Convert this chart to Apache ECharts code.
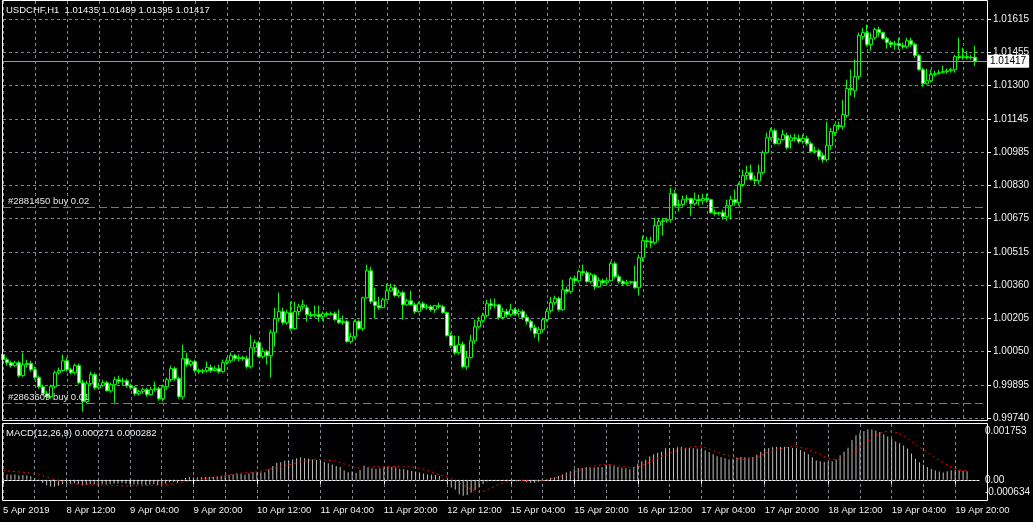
<!DOCTYPE html>
<html>
<head>
<meta charset="utf-8">
<script src="https://cdn.jsdelivr.net/npm/echarts@6/dist/echarts.min.js"></script>
<style>
html,body{margin:0;padding:0;background:#000;}
#chart{width:1033px;height:522px;}
</style>
</head>
<body>
<div id="chart"></div>
<script>
// ---------- data (USDCHF, H1) ----------
const symbolName = 'USDCHF,H1';
const sessionDays = ['5 Apr','8 Apr','9 Apr','10 Apr','11 Apr','12 Apr','15 Apr','16 Apr','17 Apr','18 Apr','19 Apr'];
const xTickLabels = ['5 Apr 2019','8 Apr 12:00','9 Apr 04:00','9 Apr 20:00','10 Apr 12:00','11 Apr 04:00','11 Apr 20:00','12 Apr 12:00','15 Apr 04:00','15 Apr 20:00','16 Apr 12:00','17 Apr 04:00','17 Apr 20:00','18 Apr 12:00','19 Apr 04:00','19 Apr 20:00'];
const priceTickLabels = ['0.99740','0.99895','1.00050','1.00205','1.00360','1.00515','1.00675','1.00830','1.00985','1.01145','1.01300','1.01455','1.01615'];
const priceMin = 0.99740, priceMax = 1.01615;
const macdMin = -0.000634, macdMax = 0.001753;
const macdAxisLabels = ['-0.000634','0.00','0.001753'];
const orderTickets = ['#2881450','#2863609'];
const orderSides = ['buy','buy'];
const orderLots = ['0.02','0.01'];
const orderPrices = [1.00729, 0.99808];

const openP = [
1.00038,1.00014,1.0,0.99986,1.0,0.99939,0.99991,0.99996,0.99967,0.9993,
0.99887,0.99854,0.9984,0.99887,0.99953,0.99963,1.00009,0.99967,0.99953,0.99986,
0.99906,0.99817,0.99901,0.99944,0.99882,0.99892,0.99906,0.99868,0.99897,0.9992,
0.99911,0.99915,0.99892,0.99882,0.99854,0.99864,0.99873,0.9985,0.99873,0.99878,
0.99831,0.99887,0.9992,0.99972,0.99925,0.9984,1.00019,0.99991,1.00005,0.99963,
0.99958,0.99963,0.99977,0.99963,0.99972,0.99958,1.0,1.00009,1.00033,1.00019,
1.00024,1.00019,0.99981,1.0007,1.00094,1.00028,1.00052,1.00033,1.00141,1.00207,
1.0024,1.00188,1.00235,1.0016,1.0024,1.00263,1.00258,1.00226,1.00221,1.00226,
1.00216,1.0023,1.00226,1.0023,1.00202,1.00188,1.00193,1.00099,1.00122,1.00193,
1.0016,1.00305,1.00432,1.00287,1.00268,1.00258,1.00296,1.00338,1.00352,1.00315,
1.00329,1.00272,1.00291,1.00272,1.0024,1.00277,1.00258,1.00263,1.00249,1.00268,
1.00263,1.00235,1.00127,1.0008,1.00047,1.00085,0.99981,1.00024,1.00103,1.00169,
1.00197,1.00221,1.00277,1.00268,1.00272,1.00212,1.0024,1.00226,1.00249,1.0023,
1.0024,1.00212,1.00193,1.00164,1.00136,1.00155,1.00202,1.00244,1.00282,1.00301,
1.00249,1.00343,1.00334,1.00395,1.00385,1.00428,1.00423,1.00381,1.00409,1.00357,
1.00385,1.00376,1.00385,1.00465,1.00404,1.00381,1.00371,1.00376,1.00381,1.00352,
1.00493,1.00573,1.00569,1.00564,1.00644,1.00663,1.00667,1.00672,1.00794,1.00738,
1.00743,1.00766,1.00771,1.00747,1.00766,1.00761,1.00771,1.00766,1.00705,1.007,
1.00705,1.00686,1.00738,1.00766,1.00752,1.00837,1.00879,1.00893,1.0086,1.00855,
1.00893,1.00987,1.01057,1.0109,1.01029,1.01048,1.01067,1.01043,1.01057,1.01053,
1.01039,1.01053,1.01029,1.00992,1.00996,1.00973,1.00954,1.0102,1.01081,1.01114,
1.01109,1.01161,1.01288,1.01278,1.01344,1.01532,1.01551,1.01495,1.01527,1.01565,
1.01551,1.01523,1.01504,1.01495,1.01499,1.0149,1.01485,1.01513,1.01495,1.01443,
1.01377,1.01311,1.01325,1.01354,1.01358,1.01363,1.01368,1.01372,1.01377,1.01438,
1.01433,1.01438,1.01433,1.01435];

const highP = [
1.0007,1.00024,1.00009,1.00009,1.00009,1.00047,1.00014,1.00009,0.99981,0.99939,
0.99897,0.99868,0.99897,0.99963,0.99977,1.00038,1.00024,0.99977,0.99996,0.99996,
0.9992,0.99915,0.99958,0.99953,0.99906,0.9992,0.99915,0.99906,0.99934,0.99939,
0.9993,0.99925,0.99901,0.99892,0.99873,0.99882,0.99882,0.99887,0.99911,0.99887,
0.99897,0.9993,0.99986,0.99981,0.99934,1.00085,1.00047,1.00014,1.00014,0.99972,
0.99972,1.00005,0.99991,0.99986,0.99991,1.00014,1.00024,1.00047,1.00042,1.00038,
1.00033,1.00033,1.00131,1.00108,1.00103,1.0007,1.00061,1.00155,1.00258,1.00329,
1.00258,1.00249,1.00287,1.00287,1.00277,1.00296,1.00272,1.0024,1.00268,1.00268,
1.0024,1.0024,1.0024,1.0024,1.00249,1.00221,1.00202,1.00141,1.00202,1.00202,
1.0031,1.00461,1.00451,1.00352,1.0031,1.00305,1.00371,1.00371,1.00367,1.00343,
1.00338,1.00301,1.00338,1.00282,1.00287,1.00287,1.00277,1.00272,1.00272,1.00282,
1.00272,1.0024,1.00141,1.00127,1.00127,1.00099,1.00052,1.00131,1.00202,1.00216,
1.00235,1.00296,1.00301,1.00301,1.00277,1.00258,1.00254,1.00277,1.00258,1.00254,
1.00249,1.00226,1.00202,1.00179,1.00169,1.00212,1.00254,1.0031,1.00315,1.0031,
1.0039,1.00357,1.00404,1.00409,1.00437,1.00461,1.00432,1.00423,1.00418,1.004,
1.00395,1.004,1.00475,1.00475,1.00414,1.0039,1.0039,1.00385,1.00456,1.00508,
1.00597,1.00592,1.00592,1.00681,1.00681,1.00681,1.00681,1.00822,1.00813,1.00766,
1.00785,1.00789,1.00775,1.00799,1.00789,1.00794,1.00794,1.00771,1.00719,1.0071,
1.00719,1.00766,1.00785,1.00813,1.00846,1.00907,1.00926,1.00931,1.00879,1.00931,
1.00996,1.01081,1.01104,1.011,1.01057,1.01095,1.01081,1.01072,1.01076,1.01072,
1.01072,1.01067,1.01039,1.01015,1.01006,1.00987,1.01133,1.01104,1.01123,1.01133,
1.01236,1.0133,1.01377,1.01424,1.01551,1.01574,1.01589,1.01551,1.01574,1.01579,
1.01556,1.01532,1.01513,1.01513,1.01527,1.01504,1.01527,1.01527,1.01504,1.01452,
1.01386,1.01382,1.01377,1.01372,1.01377,1.01396,1.01382,1.01386,1.01447,1.01527,
1.0148,1.01466,1.01447,1.01489];

const lowP = [
1.0,0.99986,0.99977,0.99981,0.9993,0.99934,0.99977,0.99958,0.9992,0.99878,
0.99845,0.99831,0.99831,0.99878,0.99944,0.99958,0.99958,0.99944,0.99944,0.99897,
0.9977,0.99807,0.99892,0.99873,0.99873,0.99887,0.99864,0.99859,0.99812,0.99901,
0.99892,0.99882,0.99873,0.99845,0.99845,0.99854,0.9984,0.99845,0.99864,0.99821,
0.99817,0.99873,0.99911,0.99915,0.99831,0.99826,0.99981,0.99981,0.99953,0.99948,
0.99948,0.99953,0.99953,0.99958,0.99948,0.99953,0.99991,1.0,1.00009,1.00005,
1.00009,0.99972,0.99972,1.00047,1.00024,1.00019,0.99991,0.9993,1.00075,1.00193,
1.00179,1.00179,1.0015,1.00155,1.00221,1.00249,1.00193,1.00212,1.00212,1.00193,
1.00197,1.00216,1.00221,1.00197,1.00183,1.00179,1.00094,1.00089,1.00113,1.00155,
1.0015,1.00301,1.00277,1.00207,1.00249,1.00263,1.00291,1.00334,1.0031,1.00305,
1.00202,1.00268,1.00268,1.0023,1.00235,1.00249,1.00249,1.0024,1.00235,1.00254,
1.0023,1.00122,1.0007,1.00038,1.00038,0.99972,0.99967,1.00019,1.00089,1.0016,
1.00188,1.00212,1.00249,1.00254,1.00202,1.00202,1.00212,1.00216,1.00221,1.00216,
1.00202,1.00179,1.0015,1.00117,1.00099,1.00141,1.00193,1.00235,1.00272,1.0024,
1.00244,1.00324,1.00324,1.00371,1.00376,1.00409,1.00376,1.00371,1.00343,1.00352,
1.00367,1.00362,1.00381,1.00395,1.00371,1.00362,1.00362,1.00367,1.00348,1.00315,
1.00475,1.0054,1.0054,1.00555,1.00573,1.00597,1.00658,1.00658,1.00733,1.0071,
1.00733,1.00752,1.00691,1.00738,1.00738,1.00743,1.00752,1.007,1.00691,1.00691,
1.00672,1.00667,1.00672,1.00738,1.00738,1.00827,1.0086,1.00855,1.00837,1.00837,
1.00884,1.00982,1.01048,1.01025,1.01025,1.01043,1.01001,1.01006,1.01039,1.01029,
1.01029,1.0102,1.00987,1.00982,1.00954,1.0094,1.00945,1.01001,1.01067,1.01095,
1.01095,1.01151,1.01255,1.01245,1.0133,1.01518,1.01485,1.01466,1.01518,1.01532,
1.01518,1.01476,1.0148,1.01471,1.01471,1.01476,1.01476,1.01485,1.01433,1.01372,
1.01297,1.01306,1.01316,1.01344,1.01354,1.01358,1.01358,1.01363,1.01363,1.01424,
1.01424,1.01424,1.01424,1.01395];

const closeP = [
1.00014,1.0,0.99986,1.0,0.99939,0.99991,0.99996,0.99967,0.9993,0.99887,
0.99854,0.9984,0.99887,0.99953,0.99963,1.00009,0.99967,0.99953,0.99986,0.99906,
0.99817,0.99901,0.99944,0.99882,0.99892,0.99906,0.99868,0.99897,0.9992,0.99911,
0.99915,0.99892,0.99882,0.99854,0.99864,0.99873,0.9985,0.99873,0.99878,0.99831,
0.99887,0.9992,0.99972,0.99925,0.9984,1.00019,0.99991,1.00005,0.99963,0.99958,
0.99963,0.99977,0.99963,0.99972,0.99958,1.0,1.00009,1.00033,1.00019,1.00024,
1.00019,0.99981,1.0007,1.00094,1.00028,1.00052,1.00033,1.00141,1.00207,1.0024,
1.00188,1.00235,1.0016,1.0024,1.00263,1.00272,1.00226,1.00221,1.00226,1.00216,
1.0023,1.00226,1.0023,1.00202,1.00188,1.00193,1.00099,1.00122,1.00193,1.0016,
1.00305,1.00432,1.00287,1.00268,1.00258,1.00296,1.00338,1.00352,1.00315,1.00329,
1.00272,1.00291,1.00272,1.0024,1.00277,1.00258,1.00263,1.00249,1.00268,1.00263,
1.00235,1.00127,1.0008,1.00047,1.00085,0.99981,1.00024,1.00103,1.00169,1.00197,
1.00221,1.00277,1.00268,1.00272,1.00212,1.0024,1.00226,1.00249,1.0023,1.0024,
1.00212,1.00193,1.00164,1.00136,1.00155,1.00202,1.0024,1.00282,1.00301,1.00249,
1.00343,1.00334,1.00395,1.00385,1.00428,1.00423,1.00381,1.00414,1.00357,1.00385,
1.00376,1.00385,1.00465,1.00404,1.00381,1.00371,1.00376,1.00381,1.00352,1.00493,
1.00573,1.00569,1.00564,1.00644,1.00663,1.00667,1.00672,1.00794,1.00738,1.00743,
1.00766,1.00771,1.00747,1.00766,1.00761,1.00771,1.00766,1.00705,1.007,1.00705,
1.00686,1.00738,1.00766,1.00752,1.00837,1.00879,1.00893,1.0086,1.00855,1.00893,
1.00987,1.01057,1.0109,1.01029,1.01048,1.01072,1.0101,1.01057,1.01053,1.01039,
1.01053,1.01029,1.00992,1.00996,1.00968,1.00954,1.0102,1.01086,1.01114,1.01109,
1.01166,1.01288,1.01283,1.01344,1.01537,1.01551,1.01495,1.01523,1.01565,1.01551,
1.01523,1.01504,1.01495,1.01499,1.0149,1.01485,1.01513,1.01495,1.01443,1.01377,
1.01311,1.01325,1.01354,1.01358,1.01363,1.01368,1.01372,1.01377,1.01438,1.01433,
1.01438,1.01433,1.01435,1.01417];

const macdMain = [
0.00016,0.00017,0.00016,0.00017,0.00014,0.00015,0.00014,0.00011,0.00004,-0.00003,
-0.0001,-0.00017,-0.00021,-0.00022,-0.00018,-0.00013,-0.00012,-0.00012,-0.00011,-0.00013,
-0.00018,-0.00016,-0.00013,-0.00014,-0.00015,-0.00014,-0.00015,-0.00014,-0.00012,-0.00012,
-0.00011,-0.00012,-0.00013,-0.00015,-0.00015,-0.00015,-0.00016,-0.00015,-0.00014,-0.00016,
-0.00015,-0.00012,-0.00008,-0.00006,-0.00009,-0.00002,0.00006,0.00008,0.00007,0.00007,
0.00008,0.00009,0.00009,0.0001,0.0001,0.00012,0.00014,0.00016,0.00017,0.00018,
0.00018,0.00016,0.0002,0.00024,0.00023,0.00024,0.00024,0.00033,0.00043,0.00053,
0.00055,0.0006,0.00059,0.00064,0.00068,0.0007,0.00068,0.00066,0.00064,0.00062,
0.0006,0.00056,0.00052,0.00048,0.00043,0.0004,0.00029,0.00024,0.00026,0.00022,
0.00031,0.00045,0.00039,0.00036,0.00035,0.00036,0.00039,0.00041,0.0004,0.00039,
0.00035,0.00034,0.00031,0.00028,0.00026,0.00023,0.0002,0.00017,0.00016,0.00015,
0.00012,0.00002,-0.0001,-0.00024,-0.00031,-0.00045,-0.0005,-0.00048,-0.0004,-0.00032,
-0.00024,-0.00013,-0.00005,0.00001,-0.00001,-0.00002,0.00001,0.00002,0.00001,0.00001,
-0.00001,-0.00004,-0.00007,-0.00009,-0.00009,-0.00006,-0.00002,0.00002,0.00006,0.00007,
0.00013,0.00017,0.00023,0.00027,0.00033,0.00037,0.00037,0.0004,0.00038,0.00039,
0.0004,0.0004,0.00047,0.00046,0.00043,0.0004,0.00038,0.00036,0.00033,0.00041,
0.00051,0.00058,0.00063,0.00073,0.0008,0.00085,0.00088,0.00099,0.001,0.001,
0.00102,0.00103,0.001,0.001,0.00099,0.00098,0.00097,0.00093,0.00087,0.0008,
0.00074,0.00071,0.00068,0.00064,0.00066,0.0007,0.00072,0.00071,0.0007,0.00072,
0.00079,0.00088,0.00097,0.001,0.00102,0.00104,0.00103,0.00104,0.00103,0.001,
0.00098,0.00094,0.00088,0.0008,0.00071,0.00061,0.00058,0.00057,0.00056,0.00058,
0.00064,0.00077,0.00088,0.00101,0.00125,0.0014,0.00148,0.00153,0.00159,0.00158,
0.00155,0.0015,0.00143,0.00136,0.00128,0.0012,0.00115,0.00108,0.00098,0.00083,
0.00066,0.00055,0.00047,0.0004,0.00034,0.00029,0.00026,0.00023,0.00027,0.0003,
0.00031,0.0003,0.00028,0.000271];

const macdSignal = [
0.00029,0.00028,0.00027,0.00026,0.00025,0.00024,0.00022,0.00021,0.0002,0.00017,
0.00013,0.00009,0.00005,0.00001,-0.00003,-0.00007,-0.00011,-0.00012,-0.00013,-0.00014,
-0.00015,-0.00015,-0.00016,-0.00016,-0.00016,-0.00017,-0.00017,-0.00018,-0.00018,-0.00018,
-0.00019,-0.00019,-0.00019,-0.00019,-0.00019,-0.00018,-0.00018,-0.00018,-0.00017,-0.00017,
-0.00016,-0.00016,-0.00014,-0.00012,-0.0001,-0.00008,-0.00006,-0.00004,-0.00002,0.00001,
0.00002,0.00004,0.00006,0.00008,0.0001,0.00012,0.00014,0.00016,0.00018,0.0002,
0.00021,0.00022,0.00023,0.00024,0.00025,0.00027,0.0003,0.00033,0.00036,0.00039,
0.00042,0.00044,0.00047,0.0005,0.00053,0.00056,0.00059,0.00061,0.00063,0.00065,
0.00064,0.00063,0.00061,0.0006,0.00058,0.00054,0.0005,0.00046,0.00042,0.00038,
0.00037,0.00038,0.00039,0.0004,0.00041,0.00041,0.00041,0.00041,0.00042,0.00042,
0.00041,0.00041,0.0004,0.0004,0.00039,0.00036,0.00033,0.00029,0.00025,0.0002,
0.00016,0.00012,0.00009,0.00004,-0.00002,-0.00009,-0.00016,-0.00023,-0.00029,-0.00034,
-0.00037,-0.00036,-0.00032,-0.00026,-0.0002,-0.00015,-0.0001,-0.00007,-0.00005,-0.00004,
-0.00003,-0.00002,-0.00002,-0.00002,-0.00002,-0.00002,-0.00001,0.0,0.00002,0.00005,
0.00008,0.00011,0.00015,0.00019,0.00024,0.00028,0.00032,0.00036,0.0004,0.00043,
0.00046,0.00048,0.00049,0.00048,0.00046,0.00044,0.00042,0.0004,0.00039,0.00038,
0.0004,0.00044,0.0005,0.00056,0.00062,0.00068,0.00074,0.00079,0.00084,0.00088,
0.00092,0.00096,0.00099,0.00102,0.00104,0.00106,0.00105,0.00101,0.00097,0.00092,
0.00087,0.00082,0.00078,0.00075,0.00071,0.00068,0.00066,0.00064,0.00065,0.00068,
0.00072,0.00077,0.00082,0.00086,0.0009,0.00094,0.00097,0.001,0.00102,0.00104,
0.00104,0.00102,0.00099,0.00095,0.0009,0.00085,0.0008,0.00073,0.00068,0.00065,
0.00064,0.00066,0.00069,0.00075,0.00083,0.00092,0.00101,0.00112,0.00122,0.00132,
0.00141,0.00146,0.0015,0.00152,0.00151,0.00149,0.00145,0.00139,0.0013,0.0012,
0.00111,0.00102,0.00094,0.00086,0.00077,0.00069,0.00062,0.00054,0.00047,0.0004,
0.00035,0.00031,0.00029,0.000282];

// ---------- build ----------
const categories = [];
sessionDays.forEach((d, k) => {
  for (let h = (k === 0 ? 20 : 0); h < 24; h++) categories.push(d + ' ' + String(h).padStart(2, '0') + ':00');
});
const padCats = [' ', '  ', '   '];
const allCats = categories.concat(padCats);
const lastCatIndex = allCats.length - 1;

const candleData = openP.map((o, i) => [o, closeP[i], lowP[i], highP[i]]);
const last = openP.length - 1;
const f5 = v => v.toFixed(5);
const titleText = symbolName + '  ' + f5(openP[last]) + ' ' + f5(highP[last]) + ' ' + f5(lowP[last]) + ' ' + f5(closeP[last]);
const macdTitle = 'MACD(12,26,9) ' + macdMain[last].toFixed(6) + ' ' + macdSignal[last].toFixed(6);

const FONT = 'Liberation Sans';
const TXT = '#f2f2f2';
const GRIDC = '#778899';
const DASH = [3, 3];
const ORDER_GREEN = '#00d200';

const vSplit = { show: true, interval: (i) => i % 8 === 0, lineStyle: { color: GRIDC, type: DASH, width: 1 } };

// order level lines spanning the whole price panel
function orderLine(k) {
  return {
    type: 'line', name: orderTickets[k], xAxisIndex: 0, yAxisIndex: 0, z: 3, silent: true,
    data: [[0, orderPrices[k]], [lastCatIndex, orderPrices[k]]],
    symbol: 'none', showSymbol: false,
    lineStyle: { color: ORDER_GREEN, type: [8, 4], width: 1 },
    itemStyle: { color: ORDER_GREEN },
    emphasis: { disabled: true }
  };
}

const chart = echarts.init(document.getElementById('chart'), null, { renderer: 'canvas' });
chart.setOption({
  backgroundColor: '#000',
  animation: false,
  textStyle: { fontFamily: FONT },
  title: [
    { text: titleText, left: 6, top: 5, padding: 0, textStyle: { color: TXT, fontSize: 9.5, fontWeight: 'normal', fontFamily: FONT } },
    { text: macdTitle, left: 6, top: 428, padding: 0, textStyle: { color: TXT, fontSize: 9.5, fontWeight: 'normal', fontFamily: FONT } }
  ],
  grid: [
    { left: 3, right: 46, top: 19, height: 399 },
    { left: 3, right: 46, top: 424, height: 76 },
    { left: 3, right: 46, top: 1, height: 18 }
  ],
  xAxis: [
    { gridIndex: 0, type: 'category', data: allCats, boundaryGap: false,
      axisLine: { show: false }, axisTick: { show: false }, axisLabel: { show: false }, splitLine: vSplit },
    { gridIndex: 1, type: 'category', data: allCats, boundaryGap: false,
      axisLine: { show: true, lineStyle: { color: '#fff' } },
      axisTick: { show: true, interval: (i) => i % 16 === 0, length: 4, lineStyle: { color: '#fff' } },
      axisLabel: { show: true, interval: (i) => i % 16 === 0, align: 'left', margin: 5, color: TXT, fontSize: 9.5, fontFamily: FONT,
        formatter: (v, i) => xTickLabels[Math.round(i / 16)] || '' },
      splitLine: vSplit },
    { gridIndex: 2, type: 'category', data: allCats, boundaryGap: false,
      axisLine: { show: false }, axisTick: { show: false }, axisLabel: { show: false }, splitLine: vSplit }
  ],
  yAxis: [
    { gridIndex: 0, type: 'value', min: priceMin, max: priceMax, show: false, splitLine: { show: false } },
    { gridIndex: 0, type: 'value', min: 0, max: priceTickLabels.length - 1, interval: 1, position: 'right',
      axisLine: { show: true, lineStyle: { color: '#fff' } },
      axisTick: { show: true, length: 4, lineStyle: { color: '#fff' } },
      axisLabel: { color: TXT, fontSize: 10, margin: 6, fontFamily: FONT, formatter: (v) => priceTickLabels[Math.round(v)] },
      splitLine: { show: true, lineStyle: { color: GRIDC, type: DASH, width: 1 } } },
    { gridIndex: 1, type: 'value', min: macdMin, max: macdMax, interval: -macdMin, position: 'right',
      axisLine: { show: false }, axisTick: { show: false }, splitLine: { show: false },
      axisLabel: { color: TXT, fontSize: 10, margin: 6, fontFamily: FONT, showMinLabel: true, showMaxLabel: true,
        formatter: (v) => {
          if (Math.abs(v - macdMax) < 1e-9) return '{t|' + macdAxisLabels[2] + '}';
          if (Math.abs(v - macdMin) < 1e-9) return '{b|' + macdAxisLabels[0] + '}';
          if (Math.abs(v) < 1e-9) return macdAxisLabels[1];
          return '';
        },
        rich: {
          t: { color: TXT, fontSize: 10, fontFamily: FONT, padding: [15, 0, 0, 0] },
          b: { color: TXT, fontSize: 10, fontFamily: FONT, padding: [0, 0, 15, 0] }
        } } },
    { gridIndex: 2, type: 'value', show: false, splitLine: { show: false } }
  ],
  series: [
    { type: 'candlestick', xAxisIndex: 0, yAxisIndex: 0, data: candleData, barWidth: 3,
      itemStyle: { color: '#000', color0: '#fff', borderColor: '#00ff00', borderColor0: '#00ff00', borderColorDoji: '#00ff00', borderWidth: 1 },
      markLine: {
        silent: true, symbol: ['none', 'none'], animation: false, precision: 6,
        data: [
          { yAxis: orderPrices[0], lineStyle: { width: 0, opacity: 0 },
            label: { show: true, position: 'insideStartTop', distance: [5, 1], formatter: orderTickets[0] + ' ' + orderSides[0] + ' ' + orderLots[0],
              color: '#e6e6e6', fontSize: 9.5, fontFamily: FONT, opacity: 1 } },
          { yAxis: orderPrices[1], lineStyle: { width: 0, opacity: 0 },
            label: { show: true, position: 'insideStartTop', distance: [5, 1], formatter: orderTickets[1] + ' ' + orderSides[1] + ' ' + orderLots[1],
              color: '#e6e6e6', fontSize: 9.5, fontFamily: FONT, opacity: 1 } },
          { yAxis: closeP[last], lineStyle: { color: '#8f9aa6', type: 'solid', width: 1 },
            label: { show: true, position: 'end', distance: 0, formatter: f5(closeP[last]), backgroundColor: '#fff', color: '#000',
              fontSize: 10, fontFamily: FONT, padding: [2, 3, 1, 3] } }
        ]
      } },
    orderLine(0),
    orderLine(1),
    { type: 'bar', xAxisIndex: 1, yAxisIndex: 2, data: macdMain, barWidth: 1, itemStyle: { color: '#c0c0c0' },
      markLine: { silent: true, symbol: ['none', 'none'], animation: false, precision: 6, label: { show: false },
        data: [{ yAxis: 0, lineStyle: { color: '#a0a0a0', type: [2, 2], width: 1 } }] } },
    { type: 'line', xAxisIndex: 1, yAxisIndex: 2, data: macdSignal, showSymbol: false, symbol: 'none',
      lineStyle: { color: '#ff0000', width: 1, type: [2, 3] } }
  ],
  graphic: [
    { type: 'rect', silent: true, z: 100, shape: { x: 2.5, y: 0.5, width: 985, height: 420 }, style: { fill: 'none', stroke: '#fff', lineWidth: 1 } },
    { type: 'rect', silent: true, z: 100, shape: { x: 2.5, y: 423.5, width: 985, height: 77 }, style: { fill: 'none', stroke: '#fff', lineWidth: 1 } }
  ]
});
</script>
</body>
</html>
